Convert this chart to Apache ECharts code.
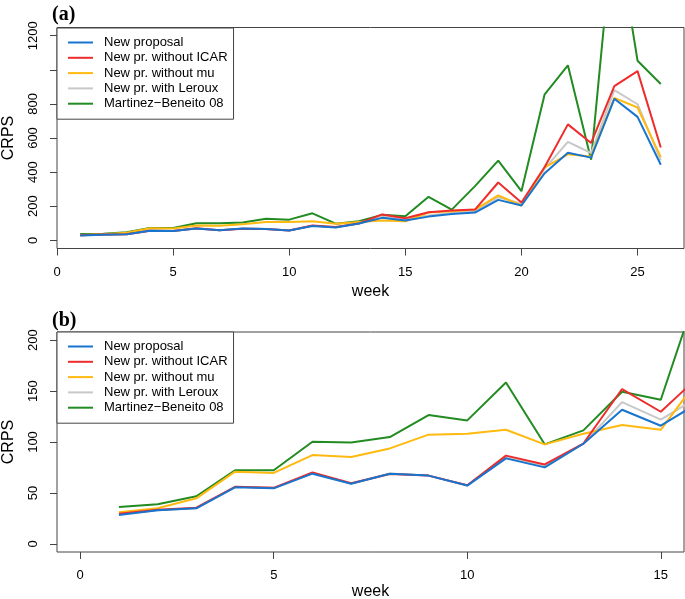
<!DOCTYPE html>
<html>
<head>
<meta charset="utf-8">
<script src="https://cdn.jsdelivr.net/npm/echarts@6/dist/echarts.min.js"></script>
<style>
  html, body { margin: 0; padding: 0; background: #fff; }
  #chart { width: 685px; height: 599px; }
</style>
</head>
<body>
<div id="chart"></div>
<script>
  // 数据：第 1..26 周的 CRPS
  var weeks = [1, 2, 3, 4, 5, 6, 7, 8, 9, 10, 11, 12, 13, 14, 15, 16, 17, 18, 19, 20, 21, 22, 23, 24, 25, 26];
  var newProposal = [28.4, 33, 34.9, 55.5, 54.5, 68.9, 59.1, 68.9, 67, 57.2, 83.9, 75.1, 98.3, 131.7, 116, 139, 155, 163, 237, 204, 394, 514, 485, 830, 724, 443];
  var withoutICAR = [29.5, 33.5, 35.5, 56, 55, 70.2, 59.5, 68.5, 67, 57.5, 86.6, 78, 98.5, 152, 129.7, 165, 175, 180, 339, 222, 430, 680, 571, 904, 992, 544];
  var withoutMu = [31, 34.9, 44.7, 70.9, 69.6, 87.2, 85.3, 93.7, 107.2, 108.1, 112, 97.7, 108.1, 116.7, 112, 163, 171, 180, 263, 204, 428, 504, 492, 835, 779, 488];
  var withLeroux = [29, 33, 35, 56, 55, 69.5, 59.3, 69, 67, 57.3, 85, 76.5, 98.3, 139.2, 121.9, 145, 160, 170, 253, 215, 420, 577, 512, 881, 798, 469];
  var martinez = [36.3, 38.9, 46.7, 72.2, 72.2, 100.3, 99.6, 104.9, 126.5, 121.2, 158.4, 97.7, 111.4, 149.3, 141.5, 255, 180, 318, 467, 288, 856, 1026, 473, 1900, 1053, 917];

  var seriesNames = ['New proposal', 'New pr. without ICAR', 'New pr. without mu', 'New pr. with Leroux', 'Martinez\u2212Beneito 08'];
  var seriesValues = [newProposal, withoutICAR, withoutMu, withLeroux, martinez];
  var seriesColors = ['#1874CD', '#EE2C2C', '#FFB90F', '#C8C8C8', '#228B22'];
  var drawOrder = [4, 3, 2, 1, 0]; // 绿色在最下，蓝色在最上

  // 刻度
  var xTicksA = [0, 5, 10, 15, 20, 25];
  var yTicksA = [0, 200, 400, 600, 800, 1000, 1200];
  var yLabelsA = [0, 200, 400, 600, 800, 1200];
  var xTicksB = [0, 5, 10, 15];
  var yTicksB = [0, 50, 100, 150, 200];

  var font = 'Liberation Sans, Arial, sans-serif';
  var serif = 'Liberation Serif, Times New Roman, serif';
  var ink = '#444';

  var toPairs = function (vals) {
    return weeks.map(function (w, i) { return [w, vals[i]]; });
  };
  var plain = function (v) { return String(v); };

  var makeX = function (idx, min, max, ticks, gap) {
    return {
      type: 'value', gridIndex: idx, min: min, max: max,
      name: 'week', nameLocation: 'middle', nameGap: gap,
      nameTextStyle: { fontFamily: font, fontSize: 16, color: '#000' },
      splitLine: { show: false },
      axisLine: { show: false, onZero: false },
      axisTick: { show: true, length: 7, customValues: ticks, lineStyle: { color: ink } },
      axisLabel: { customValues: ticks, formatter: plain, margin: 17, fontFamily: font, fontSize: 13, color: '#000' }
    };
  };

  var makeY = function (idx, min, max, ticks, labels) {
    return {
      type: 'value', gridIndex: idx, min: min, max: max,
      name: 'CRPS', nameLocation: 'middle', nameGap: 40, nameRotate: 90,
      nameTextStyle: { fontFamily: font, fontSize: 16, color: '#000' },
      splitLine: { show: false },
      axisLine: { show: false, onZero: false },
      axisTick: { show: true, length: 7, customValues: ticks, lineStyle: { color: ink } },
      axisLabel: { customValues: labels, formatter: plain, rotate: 90, margin: 17, fontFamily: font, fontSize: 13, color: '#000' }
    };
  };

  var makeLegend = function (top) {
    return {
      left: 57, top: top, orient: 'vertical',
      data: seriesNames,
      backgroundColor: '#fff', borderColor: ink, borderWidth: 1,
      padding: [8, 6, 9, 10],
      itemWidth: 25, itemHeight: 13, itemGap: 2.3,
      itemStyle: { opacity: 0 },
      textStyle: { fontFamily: font, fontSize: 13, color: '#000', lineHeight: 13, padding: [0, 0, 0, 6] },
      selectedMode: false
    };
  };

  var series = [];
  [0, 1].forEach(function (panel) {
    drawOrder.forEach(function (k) {
      series.push({
        type: 'line', name: seriesNames[k],
        xAxisIndex: panel, yAxisIndex: panel,
        data: toPairs(seriesValues[k]),
        symbol: 'none', clip: true,
        color: seriesColors[k],
        lineStyle: { width: 2, color: seriesColors[k] },
        z: 2 + (4 - k)
      });
    });
  });

  var chart = echarts.init(document.getElementById('chart'));
  chart.setOption({
    animation: false,
    backgroundColor: '#fff',
    title: [
      { text: '(a)', left: 52, top: 5, padding: 0, textStyle: { fontFamily: serif, fontWeight: 'bold', fontSize: 20, color: '#000' } },
      { text: '(b)', left: 52, top: 311, padding: 0, textStyle: { fontFamily: serif, fontWeight: 'bold', fontSize: 20, color: '#000' } }
    ],
    grid: [
      { left: 57, top: 27.5, right: 1, height: 221, outerBoundsMode: 'none', containLabel: false, show: true, borderColor: ink, borderWidth: 1, backgroundColor: 'transparent' },
      { left: 57, top: 332, right: 1, height: 220, outerBoundsMode: 'none', containLabel: false, show: true, borderColor: ink, borderWidth: 1, backgroundColor: 'transparent' }
    ],
    xAxis: [makeX(0, 0, 27, xTicksA, 35), makeX(1, -0.6, 15.6, xTicksB, 32)],
    yAxis: [makeY(0, -48, 1248, yTicksA, yLabelsA), makeY(1, -8, 208, yTicksB, yTicksB)],
    legend: [makeLegend(28), makeLegend(332)],
    series: series
  });
</script>
</body>
</html>
